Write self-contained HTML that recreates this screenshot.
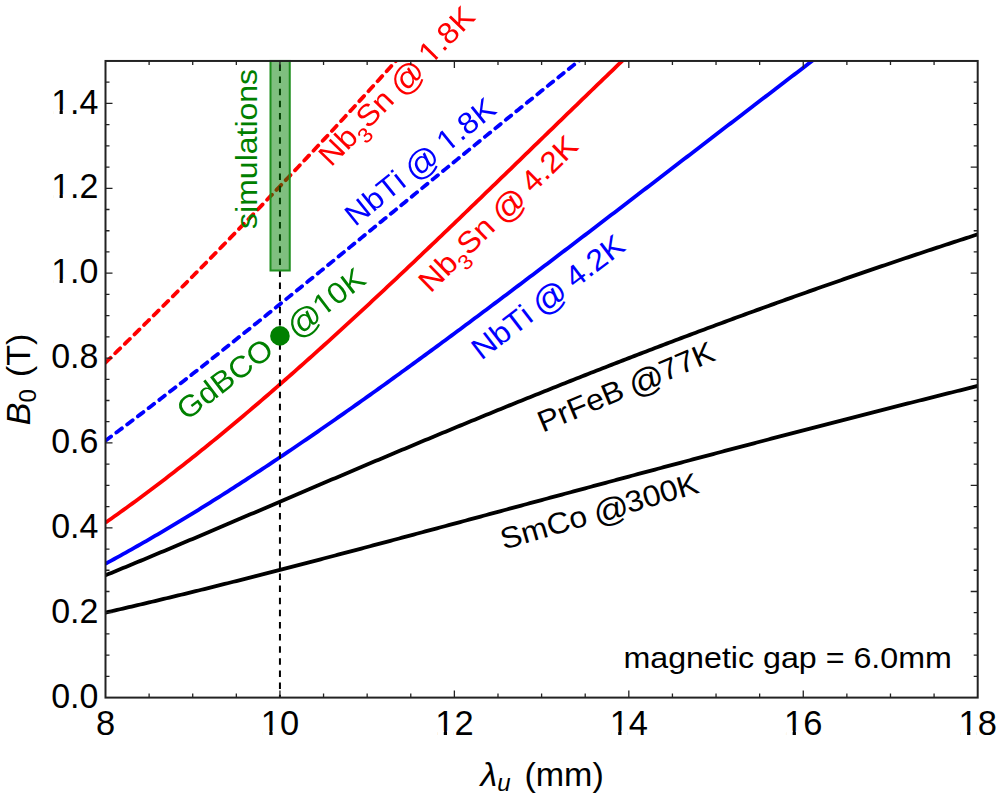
<!DOCTYPE html>
<html><head><meta charset="utf-8"><style>html,body{margin:0;padding:0;background:#fff;width:1000px;height:800px;overflow:hidden}svg{display:block}</style></head>
<body><div id="w"><svg width="1000" height="800" viewBox="0 0 1000 800" font-family='"Liberation Sans", sans-serif' style="font-kerning:none"><defs><clipPath id="cp"><rect x="105.5" y="60.95500000000004" width="872.20" height="636.64"/></clipPath></defs><rect width="1000" height="800" fill="#fff"/><g clip-path="url(#cp)" fill="none" stroke-linejoin="round"><path d="M105.50,612.56 L108.41,611.90 L111.31,611.24 L114.22,610.57 L117.13,609.91 L120.04,609.24 L122.94,608.57 L125.85,607.89 L128.76,607.22 L131.67,606.54 L134.57,605.86 L137.48,605.18 L140.39,604.50 L143.30,603.81 L146.20,603.13 L149.11,602.44 L152.02,601.75 L154.92,601.06 L157.83,600.36 L160.74,599.67 L163.65,598.97 L166.55,598.27 L169.46,597.57 L172.37,596.87 L175.28,596.16 L178.18,595.46 L181.09,594.75 L184.00,594.04 L186.91,593.33 L189.81,592.62 L192.72,591.91 L195.63,591.19 L198.53,590.47 L201.44,589.76 L204.35,589.04 L207.26,588.32 L210.16,587.59 L213.07,586.87 L215.98,586.15 L218.89,585.42 L221.79,584.69 L224.70,583.96 L227.61,583.23 L230.52,582.50 L233.42,581.77 L236.33,581.04 L239.24,580.30 L242.14,579.56 L245.05,578.83 L247.96,578.09 L250.87,577.35 L253.77,576.61 L256.68,575.87 L259.59,575.12 L262.50,574.38 L265.40,573.63 L268.31,572.89 L271.22,572.14 L274.13,571.39 L277.03,570.64 L279.94,569.89 L282.85,569.14 L285.75,568.39 L288.66,567.64 L291.57,566.88 L294.48,566.13 L297.38,565.37 L300.29,564.61 L303.20,563.86 L306.11,563.10 L309.01,562.34 L311.92,561.58 L314.83,560.82 L317.74,560.06 L320.64,559.29 L323.55,558.53 L326.46,557.77 L329.36,557.00 L332.27,556.24 L335.18,555.47 L338.09,554.70 L340.99,553.94 L343.90,553.17 L346.81,552.40 L349.72,551.63 L352.62,550.86 L355.53,550.09 L358.44,549.32 L361.35,548.55 L364.25,547.78 L367.16,547.00 L370.07,546.23 L372.97,545.46 L375.88,544.68 L378.79,543.91 L381.70,543.13 L384.60,542.36 L387.51,541.58 L390.42,540.80 L393.33,540.03 L396.23,539.25 L399.14,538.47 L402.05,537.69 L404.96,536.91 L407.86,536.13 L410.77,535.35 L413.68,534.57 L416.58,533.79 L419.49,533.01 L422.40,532.23 L425.31,531.45 L428.21,530.67 L431.12,529.89 L434.03,529.11 L436.94,528.32 L439.84,527.54 L442.75,526.76 L445.66,525.97 L448.57,525.19 L451.47,524.41 L454.38,523.62 L457.29,522.84 L460.19,522.06 L463.10,521.27 L466.01,520.49 L468.92,519.70 L471.82,518.92 L474.73,518.13 L477.64,517.35 L480.55,516.56 L483.45,515.78 L486.36,514.99 L489.27,514.21 L492.18,513.42 L495.08,512.64 L497.99,511.85 L500.90,511.06 L503.80,510.28 L506.71,509.49 L509.62,508.71 L512.53,507.92 L515.43,507.13 L518.34,506.35 L521.25,505.56 L524.16,504.78 L527.06,503.99 L529.97,503.21 L532.88,502.42 L535.79,501.63 L538.69,500.85 L541.60,500.06 L544.51,499.28 L547.41,498.49 L550.32,497.71 L553.23,496.92 L556.14,496.13 L559.04,495.35 L561.95,494.56 L564.86,493.78 L567.77,492.99 L570.67,492.21 L573.58,491.42 L576.49,490.64 L579.40,489.86 L582.30,489.07 L585.21,488.29 L588.12,487.50 L591.02,486.72 L593.93,485.94 L596.84,485.15 L599.75,484.37 L602.65,483.59 L605.56,482.80 L608.47,482.02 L611.38,481.24 L614.28,480.46 L617.19,479.68 L620.10,478.89 L623.01,478.11 L625.91,477.33 L628.82,476.55 L631.73,475.77 L634.63,474.99 L637.54,474.21 L640.45,473.43 L643.36,472.65 L646.26,471.87 L649.17,471.09 L652.08,470.31 L654.99,469.54 L657.89,468.76 L660.80,467.98 L663.71,467.20 L666.62,466.42 L669.52,465.65 L672.43,464.87 L675.34,464.10 L678.24,463.32 L681.15,462.54 L684.06,461.77 L686.97,460.99 L689.87,460.22 L692.78,459.45 L695.69,458.67 L698.60,457.90 L701.50,457.13 L704.41,456.35 L707.32,455.58 L710.23,454.81 L713.13,454.04 L716.04,453.27 L718.95,452.50 L721.85,451.73 L724.76,450.96 L727.67,450.19 L730.58,449.42 L733.48,448.65 L736.39,447.88 L739.30,447.12 L742.21,446.35 L745.11,445.58 L748.02,444.82 L750.93,444.05 L753.84,443.29 L756.74,442.52 L759.65,441.76 L762.56,440.99 L765.46,440.23 L768.37,439.47 L771.28,438.71 L774.19,437.94 L777.09,437.18 L780.00,436.42 L782.91,435.66 L785.82,434.90 L788.72,434.14 L791.63,433.38 L794.54,432.62 L797.45,431.87 L800.35,431.11 L803.26,430.35 L806.17,429.59 L809.07,428.84 L811.98,428.08 L814.89,427.33 L817.80,426.57 L820.70,425.82 L823.61,425.07 L826.52,424.31 L829.43,423.56 L832.33,422.81 L835.24,422.06 L838.15,421.31 L841.06,420.56 L843.96,419.81 L846.87,419.06 L849.78,418.31 L852.68,417.56 L855.59,416.82 L858.50,416.07 L861.41,415.32 L864.31,414.58 L867.22,413.83 L870.13,413.09 L873.04,412.34 L875.94,411.60 L878.85,410.86 L881.76,410.12 L884.67,409.37 L887.57,408.63 L890.48,407.89 L893.39,407.15 L896.29,406.41 L899.20,405.67 L902.11,404.94 L905.02,404.20 L907.92,403.46 L910.83,402.73 L913.74,401.99 L916.65,401.26 L919.55,400.52 L922.46,399.79 L925.37,399.05 L928.28,398.32 L931.18,397.59 L934.09,396.86 L937.00,396.13 L939.90,395.40 L942.81,394.67 L945.72,393.94 L948.63,393.21 L951.53,392.48 L954.44,391.76 L957.35,391.03 L960.26,390.30 L963.16,389.58 L966.07,388.85 L968.98,388.13 L971.89,387.41 L974.79,386.68 L977.70,385.96" stroke="#000" stroke-width="3.8"/><path d="M105.50,575.27 L108.41,574.08 L111.31,572.89 L114.22,571.70 L117.13,570.50 L120.04,569.31 L122.94,568.11 L125.85,566.91 L128.76,565.70 L131.67,564.50 L134.57,563.29 L137.48,562.08 L140.39,560.88 L143.30,559.66 L146.20,558.45 L149.11,557.24 L152.02,556.02 L154.92,554.81 L157.83,553.59 L160.74,552.37 L163.65,551.15 L166.55,549.93 L169.46,548.70 L172.37,547.48 L175.28,546.25 L178.18,545.03 L181.09,543.80 L184.00,542.57 L186.91,541.34 L189.81,540.11 L192.72,538.88 L195.63,537.65 L198.53,536.41 L201.44,535.18 L204.35,533.95 L207.26,532.71 L210.16,531.47 L213.07,530.24 L215.98,529.00 L218.89,527.76 L221.79,526.52 L224.70,525.29 L227.61,524.05 L230.52,522.81 L233.42,521.57 L236.33,520.33 L239.24,519.09 L242.14,517.85 L245.05,516.60 L247.96,515.36 L250.87,514.12 L253.77,512.88 L256.68,511.64 L259.59,510.39 L262.50,509.15 L265.40,507.91 L268.31,506.67 L271.22,505.43 L274.13,504.18 L277.03,502.94 L279.94,501.70 L282.85,500.46 L285.75,499.21 L288.66,497.97 L291.57,496.73 L294.48,495.49 L297.38,494.25 L300.29,493.00 L303.20,491.76 L306.11,490.52 L309.01,489.28 L311.92,488.04 L314.83,486.80 L317.74,485.56 L320.64,484.32 L323.55,483.08 L326.46,481.84 L329.36,480.61 L332.27,479.37 L335.18,478.13 L338.09,476.89 L340.99,475.66 L343.90,474.42 L346.81,473.19 L349.72,471.95 L352.62,470.72 L355.53,469.49 L358.44,468.25 L361.35,467.02 L364.25,465.79 L367.16,464.56 L370.07,463.33 L372.97,462.10 L375.88,460.87 L378.79,459.64 L381.70,458.42 L384.60,457.19 L387.51,455.97 L390.42,454.74 L393.33,453.52 L396.23,452.29 L399.14,451.07 L402.05,449.85 L404.96,448.63 L407.86,447.41 L410.77,446.19 L413.68,444.97 L416.58,443.76 L419.49,442.54 L422.40,441.33 L425.31,440.11 L428.21,438.90 L431.12,437.69 L434.03,436.48 L436.94,435.27 L439.84,434.06 L442.75,432.85 L445.66,431.64 L448.57,430.44 L451.47,429.23 L454.38,428.03 L457.29,426.83 L460.19,425.63 L463.10,424.42 L466.01,423.23 L468.92,422.03 L471.82,420.83 L474.73,419.64 L477.64,418.44 L480.55,417.25 L483.45,416.05 L486.36,414.86 L489.27,413.67 L492.18,412.49 L495.08,411.30 L497.99,410.11 L500.90,408.93 L503.80,407.74 L506.71,406.56 L509.62,405.38 L512.53,404.20 L515.43,403.02 L518.34,401.84 L521.25,400.67 L524.16,399.49 L527.06,398.32 L529.97,397.15 L532.88,395.98 L535.79,394.81 L538.69,393.64 L541.60,392.47 L544.51,391.31 L547.41,390.14 L550.32,388.98 L553.23,387.82 L556.14,386.66 L559.04,385.50 L561.95,384.34 L564.86,383.19 L567.77,382.03 L570.67,380.88 L573.58,379.73 L576.49,378.58 L579.40,377.43 L582.30,376.28 L585.21,375.13 L588.12,373.99 L591.02,372.85 L593.93,371.70 L596.84,370.56 L599.75,369.42 L602.65,368.29 L605.56,367.15 L608.47,366.02 L611.38,364.88 L614.28,363.75 L617.19,362.62 L620.10,361.49 L623.01,360.37 L625.91,359.24 L628.82,358.12 L631.73,356.99 L634.63,355.87 L637.54,354.75 L640.45,353.63 L643.36,352.52 L646.26,351.40 L649.17,350.29 L652.08,349.17 L654.99,348.06 L657.89,346.95 L660.80,345.85 L663.71,344.74 L666.62,343.64 L669.52,342.53 L672.43,341.43 L675.34,340.33 L678.24,339.23 L681.15,338.13 L684.06,337.04 L686.97,335.94 L689.87,334.85 L692.78,333.76 L695.69,332.67 L698.60,331.58 L701.50,330.50 L704.41,329.41 L707.32,328.33 L710.23,327.25 L713.13,326.17 L716.04,325.09 L718.95,324.01 L721.85,322.94 L724.76,321.86 L727.67,320.79 L730.58,319.72 L733.48,318.65 L736.39,317.58 L739.30,316.51 L742.21,315.45 L745.11,314.39 L748.02,313.32 L750.93,312.26 L753.84,311.21 L756.74,310.15 L759.65,309.09 L762.56,308.04 L765.46,306.99 L768.37,305.94 L771.28,304.89 L774.19,303.84 L777.09,302.79 L780.00,301.75 L782.91,300.71 L785.82,299.66 L788.72,298.62 L791.63,297.59 L794.54,296.55 L797.45,295.51 L800.35,294.48 L803.26,293.45 L806.17,292.42 L809.07,291.39 L811.98,290.36 L814.89,289.34 L817.80,288.31 L820.70,287.29 L823.61,286.27 L826.52,285.25 L829.43,284.23 L832.33,283.21 L835.24,282.20 L838.15,281.19 L841.06,280.17 L843.96,279.16 L846.87,278.16 L849.78,277.15 L852.68,276.14 L855.59,275.14 L858.50,274.14 L861.41,273.14 L864.31,272.14 L867.22,271.14 L870.13,270.14 L873.04,269.15 L875.94,268.16 L878.85,267.16 L881.76,266.17 L884.67,265.19 L887.57,264.20 L890.48,263.21 L893.39,262.23 L896.29,261.25 L899.20,260.27 L902.11,259.29 L905.02,258.31 L907.92,257.33 L910.83,256.36 L913.74,255.38 L916.65,254.41 L919.55,253.44 L922.46,252.47 L925.37,251.51 L928.28,250.54 L931.18,249.58 L934.09,248.62 L937.00,247.66 L939.90,246.70 L942.81,245.74 L945.72,244.78 L948.63,243.83 L951.53,242.87 L954.44,241.92 L957.35,240.97 L960.26,240.02 L963.16,239.08 L966.07,238.13 L968.98,237.19 L971.89,236.24 L974.79,235.30 L977.70,234.36" stroke="#000" stroke-width="3.8"/><path d="M105.50,563.73 L108.41,562.16 L111.31,560.58 L114.22,558.99 L117.13,557.40 L120.04,555.80 L122.94,554.19 L125.85,552.57 L128.76,550.94 L131.67,549.31 L134.57,547.67 L137.48,546.02 L140.39,544.36 L143.30,542.70 L146.20,541.03 L149.11,539.35 L152.02,537.66 L154.92,535.97 L157.83,534.27 L160.74,532.57 L163.65,530.86 L166.55,529.14 L169.46,527.41 L172.37,525.68 L175.28,523.94 L178.18,522.19 L181.09,520.44 L184.00,518.68 L186.91,516.91 L189.81,515.14 L192.72,513.36 L195.63,511.57 L198.53,509.78 L201.44,507.98 L204.35,506.18 L207.26,504.37 L210.16,502.55 L213.07,500.73 L215.98,498.90 L218.89,497.07 L221.79,495.23 L224.70,493.38 L227.61,491.53 L230.52,489.67 L233.42,487.81 L236.33,485.94 L239.24,484.07 L242.14,482.19 L245.05,480.30 L247.96,478.41 L250.87,476.52 L253.77,474.62 L256.68,472.71 L259.59,470.80 L262.50,468.88 L265.40,466.96 L268.31,465.04 L271.22,463.10 L274.13,461.17 L277.03,459.23 L279.94,457.28 L282.85,455.33 L285.75,453.38 L288.66,451.42 L291.57,449.45 L294.48,447.48 L297.38,445.51 L300.29,443.53 L303.20,441.55 L306.11,439.56 L309.01,437.57 L311.92,435.57 L314.83,433.57 L317.74,431.57 L320.64,429.56 L323.55,427.55 L326.46,425.53 L329.36,423.51 L332.27,421.49 L335.18,419.46 L338.09,417.43 L340.99,415.39 L343.90,413.35 L346.81,411.31 L349.72,409.26 L352.62,407.21 L355.53,405.16 L358.44,403.10 L361.35,401.04 L364.25,398.97 L367.16,396.90 L370.07,394.83 L372.97,392.76 L375.88,390.68 L378.79,388.60 L381.70,386.51 L384.60,384.43 L387.51,382.34 L390.42,380.24 L393.33,378.14 L396.23,376.04 L399.14,373.94 L402.05,371.83 L404.96,369.73 L407.86,367.61 L410.77,365.50 L413.68,363.38 L416.58,361.26 L419.49,359.14 L422.40,357.01 L425.31,354.89 L428.21,352.76 L431.12,350.62 L434.03,348.49 L436.94,346.35 L439.84,344.21 L442.75,342.07 L445.66,339.92 L448.57,337.77 L451.47,335.63 L454.38,333.47 L457.29,331.32 L460.19,329.16 L463.10,327.00 L466.01,324.84 L468.92,322.68 L471.82,320.52 L474.73,318.35 L477.64,316.18 L480.55,314.01 L483.45,311.84 L486.36,309.67 L489.27,307.49 L492.18,305.31 L495.08,303.13 L497.99,300.95 L500.90,298.77 L503.80,296.58 L506.71,294.40 L509.62,292.21 L512.53,290.02 L515.43,287.83 L518.34,285.64 L521.25,283.44 L524.16,281.25 L527.06,279.05 L529.97,276.85 L532.88,274.65 L535.79,272.45 L538.69,270.25 L541.60,268.05 L544.51,265.84 L547.41,263.64 L550.32,261.43 L553.23,259.22 L556.14,257.01 L559.04,254.80 L561.95,252.59 L564.86,250.38 L567.77,248.17 L570.67,245.95 L573.58,243.74 L576.49,241.52 L579.40,239.30 L582.30,237.08 L585.21,234.87 L588.12,232.65 L591.02,230.43 L593.93,228.20 L596.84,225.98 L599.75,223.76 L602.65,221.54 L605.56,219.31 L608.47,217.09 L611.38,214.86 L614.28,212.64 L617.19,210.41 L620.10,208.18 L623.01,205.96 L625.91,203.73 L628.82,201.50 L631.73,199.27 L634.63,197.04 L637.54,194.81 L640.45,192.58 L643.36,190.35 L646.26,188.12 L649.17,185.89 L652.08,183.66 L654.99,181.43 L657.89,179.19 L660.80,176.96 L663.71,174.73 L666.62,172.50 L669.52,170.26 L672.43,168.03 L675.34,165.80 L678.24,163.57 L681.15,161.33 L684.06,159.10 L686.97,156.87 L689.87,154.63 L692.78,152.40 L695.69,150.17 L698.60,147.93 L701.50,145.70 L704.41,143.47 L707.32,141.23 L710.23,139.00 L713.13,136.77 L716.04,134.53 L718.95,132.30 L721.85,130.07 L724.76,127.84 L727.67,125.61 L730.58,123.37 L733.48,121.14 L736.39,118.91 L739.30,116.68 L742.21,114.45 L745.11,112.22 L748.02,109.99 L750.93,107.76 L753.84,105.53 L756.74,103.30 L759.65,101.07 L762.56,98.85 L765.46,96.62 L768.37,94.39 L771.28,92.16 L774.19,89.94 L777.09,87.71 L780.00,85.49 L782.91,83.26 L785.82,81.04 L788.72,78.81 L791.63,76.59 L794.54,74.37 L797.45,72.15 L800.35,69.93 L803.26,67.71 L806.17,65.49 L809.07,63.27 L811.98,61.05 L814.89,58.83 L817.80,56.61 L820.70,54.40 L823.61,52.18 L826.52,49.97 L829.43,47.75 L832.33,45.54 L835.24,43.33 L838.15,41.11 L841.06,38.90 L843.96,36.69 L846.87,34.48" stroke="#00f" stroke-width="3.8"/><path d="M105.50,522.65 L108.50,520.55 L111.50,518.44 L114.50,516.32 L117.50,514.19 L120.50,512.05 L123.50,509.90 L126.50,507.74 L129.50,505.56 L132.50,503.38 L135.50,501.18 L138.50,498.98 L141.50,496.76 L144.50,494.53 L147.50,492.30 L150.50,490.05 L153.50,487.79 L156.50,485.52 L159.50,483.24 L162.50,480.96 L165.50,478.66 L168.50,476.35 L171.50,474.03 L174.50,471.71 L177.50,469.37 L180.50,467.02 L183.50,464.67 L186.50,462.30 L189.50,459.93 L192.50,457.54 L195.50,455.15 L198.50,452.75 L201.50,450.34 L204.50,447.92 L207.50,445.49 L210.50,443.05 L213.50,440.61 L216.50,438.16 L219.50,435.69 L222.50,433.22 L225.50,430.74 L228.50,428.26 L231.50,425.76 L234.50,423.26 L237.50,420.74 L240.50,418.22 L243.50,415.70 L246.50,413.16 L249.50,410.62 L252.50,408.07 L255.50,405.51 L258.50,402.95 L261.50,400.37 L264.50,397.79 L267.50,395.20 L270.50,392.61 L273.50,390.01 L276.50,387.40 L279.50,384.79 L282.50,382.16 L285.50,379.53 L288.50,376.90 L291.50,374.26 L294.50,371.61 L297.50,368.95 L300.50,366.29 L303.50,363.62 L306.50,360.95 L309.50,358.27 L312.50,355.59 L315.50,352.89 L318.50,350.20 L321.50,347.49 L324.50,344.78 L327.50,342.07 L330.50,339.35 L333.50,336.62 L336.50,333.89 L339.50,331.16 L342.50,328.41 L345.50,325.67 L348.50,322.92 L351.50,320.16 L354.50,317.40 L357.50,314.63 L360.50,311.86 L363.50,309.08 L366.50,306.30 L369.50,303.52 L372.50,300.73 L375.50,297.94 L378.50,295.14 L381.50,292.34 L384.50,289.53 L387.50,286.72 L390.50,283.91 L393.50,281.09 L396.50,278.26 L399.50,275.44 L402.50,272.61 L405.50,269.78 L408.50,266.94 L411.50,264.10 L414.50,261.26 L417.50,258.41 L420.50,255.56 L423.50,252.71 L426.50,249.85 L429.50,247.00 L432.50,244.14 L435.50,241.27 L438.50,238.40 L441.50,235.54 L444.50,232.66 L447.50,229.79 L450.50,226.91 L453.50,224.03 L456.50,221.15 L459.50,218.27 L462.50,215.38 L465.50,212.50 L468.50,209.61 L471.50,206.72 L474.50,203.82 L477.50,200.93 L480.50,198.03 L483.50,195.14 L486.50,192.24 L489.50,189.34 L492.50,186.44 L495.50,183.53 L498.50,180.63 L501.50,177.72 L504.50,174.82 L507.50,171.91 L510.50,169.01 L513.50,166.10 L516.50,163.19 L519.50,160.28 L522.50,157.37 L525.50,154.46 L528.50,151.55 L531.50,148.64 L534.50,145.73 L537.50,142.82 L540.50,139.91 L543.50,137.00 L546.50,134.09 L549.50,131.18 L552.50,128.27 L555.50,125.36 L558.50,122.45 L561.50,119.54 L564.50,116.63 L567.50,113.72 L570.50,110.82 L573.50,107.91 L576.50,105.01 L579.50,102.11 L582.50,99.20 L585.50,96.30 L588.50,93.40 L591.50,90.50 L594.50,87.61 L597.50,84.71 L600.50,81.82 L603.50,78.93 L606.50,76.04 L609.50,73.15 L612.50,70.26 L615.50,67.38 L618.50,64.49 L621.50,61.61 L624.50,58.74 L627.50,55.86 L630.50,52.99" stroke="#f00" stroke-width="3.8"/><path d="M105.50,440.64 L108.41,438.48 L111.31,436.31 L114.22,434.14 L117.13,431.96 L120.04,429.78 L122.94,427.59 L125.85,425.40 L128.76,423.20 L131.67,421.00 L134.57,418.80 L137.48,416.59 L140.39,414.37 L143.30,412.15 L146.20,409.93 L149.11,407.70 L152.02,405.47 L154.92,403.24 L157.83,401.00 L160.74,398.76 L163.65,396.51 L166.55,394.26 L169.46,392.00 L172.37,389.75 L175.28,387.49 L178.18,385.22 L181.09,382.95 L184.00,380.68 L186.91,378.40 L189.81,376.13 L192.72,373.84 L195.63,371.56 L198.53,369.27 L201.44,366.98 L204.35,364.69 L207.26,362.39 L210.16,360.09 L213.07,357.79 L215.98,355.48 L218.89,353.17 L221.79,350.86 L224.70,348.55 L227.61,346.24 L230.52,343.92 L233.42,341.60 L236.33,339.27 L239.24,336.95 L242.14,334.62 L245.05,332.29 L247.96,329.96 L250.87,327.63 L253.77,325.29 L256.68,322.95 L259.59,320.61 L262.50,318.27 L265.40,315.93 L268.31,313.58 L271.22,311.24 L274.13,308.89 L277.03,306.54 L279.94,304.19 L282.85,301.83 L285.75,299.48 L288.66,297.12 L291.57,294.76 L294.48,292.40 L297.38,290.04 L300.29,287.68 L303.20,285.32 L306.11,282.96 L309.01,280.59 L311.92,278.22 L314.83,275.86 L317.74,273.49 L320.64,271.12 L323.55,268.75 L326.46,266.38 L329.36,264.01 L332.27,261.63 L335.18,259.26 L338.09,256.89 L340.99,254.51 L343.90,252.13 L346.81,249.76 L349.72,247.38 L352.62,245.00 L355.53,242.63 L358.44,240.25 L361.35,237.87 L364.25,235.49 L367.16,233.11 L370.07,230.73 L372.97,228.35 L375.88,225.97 L378.79,223.59 L381.70,221.21 L384.60,218.83 L387.51,216.45 L390.42,214.07 L393.33,211.68 L396.23,209.30 L399.14,206.92 L402.05,204.54 L404.96,202.16 L407.86,199.78 L410.77,197.40 L413.68,195.02 L416.58,192.64 L419.49,190.26 L422.40,187.88 L425.31,185.50 L428.21,183.12 L431.12,180.74 L434.03,178.36 L436.94,175.98 L439.84,173.61 L442.75,171.23 L445.66,168.85 L448.57,166.48 L451.47,164.10 L454.38,161.72 L457.29,159.35 L460.19,156.98 L463.10,154.60 L466.01,152.23 L468.92,149.86 L471.82,147.49 L474.73,145.12 L477.64,142.75 L480.55,140.38 L483.45,138.01 L486.36,135.64 L489.27,133.28 L492.18,130.91 L495.08,128.55 L497.99,126.18 L500.90,123.82 L503.80,121.46 L506.71,119.10 L509.62,116.74 L512.53,114.38 L515.43,112.02 L518.34,109.66 L521.25,107.31 L524.16,104.95 L527.06,102.60 L529.97,100.25 L532.88,97.90 L535.79,95.55 L538.69,93.20 L541.60,90.85 L544.51,88.50 L547.41,86.16 L550.32,83.82 L553.23,81.47 L556.14,79.13 L559.04,76.79 L561.95,74.46 L564.86,72.12 L567.77,69.78 L570.67,67.45 L573.58,65.12 L576.49,62.79 L579.40,60.46 L582.30,58.13 L585.21,55.80 L588.12,53.47 L591.02,51.15 L593.93,48.83 L596.84,46.51 L599.75,44.19 L602.65,41.87 L605.56,39.56 L608.47,37.24 L611.38,34.93" stroke="#00f" stroke-width="3.8" stroke-dasharray="7 6.5" stroke-linecap="round"/><path d="M105.50,362.66 L108.50,359.74 L111.50,356.83 L114.50,353.91 L117.50,350.98 L120.50,348.06 L123.50,345.12 L126.50,342.19 L129.50,339.24 L132.50,336.30 L135.50,333.35 L138.50,330.39 L141.50,327.44 L144.50,324.47 L147.50,321.51 L150.50,318.53 L153.50,315.56 L156.50,312.58 L159.50,309.59 L162.50,306.61 L165.50,303.61 L168.50,300.62 L171.50,297.61 L174.50,294.61 L177.50,291.60 L180.50,288.58 L183.50,285.57 L186.50,282.54 L189.50,279.52 L192.50,276.48 L195.50,273.45 L198.50,270.41 L201.50,267.36 L204.50,264.32 L207.50,261.26 L210.50,258.21 L213.50,255.15 L216.50,252.08 L219.50,249.01 L222.50,245.94 L225.50,242.86 L228.50,239.77 L231.50,236.69 L234.50,233.60 L237.50,230.50 L240.50,227.40 L243.50,224.30 L246.50,221.19 L249.50,218.07 L252.50,214.96 L255.50,211.84 L258.50,208.71 L261.50,205.58 L264.50,202.45 L267.50,199.31 L270.50,196.17 L273.50,193.02 L276.50,189.87 L279.50,186.71 L282.50,183.55 L285.50,180.39 L288.50,177.22 L291.50,174.05 L294.50,170.87 L297.50,167.69 L300.50,164.50 L303.50,161.31 L306.50,158.12 L309.50,154.92 L312.50,151.72 L315.50,148.51 L318.50,145.30 L321.50,142.08 L324.50,138.86 L327.50,135.64 L330.50,132.41 L333.50,129.18 L336.50,125.94 L339.50,122.70 L342.50,119.45 L345.50,116.20 L348.50,112.95 L351.50,109.69 L354.50,106.43 L357.50,103.16 L360.50,99.89 L363.50,96.61 L366.50,93.33 L369.50,90.05 L372.50,86.76 L375.50,83.47 L378.50,80.17 L381.50,76.87 L384.50,73.56 L387.50,70.25 L390.50,66.94 L393.50,63.62 L396.50,60.30 L399.50,56.97 L402.50,53.64" stroke="#f00" stroke-width="3.8" stroke-dasharray="7 6.5" stroke-linecap="round"/></g><line x1="279.94" y1="60.96" x2="279.94" y2="697.6" stroke="#000" stroke-width="2" stroke-dasharray="6.5 5.62" stroke-dashoffset="8.62"/><rect x="270.5" y="60.96" width="19.25" height="209.54" fill="rgb(0,128,0)" fill-opacity="0.5" stroke="#1f8f1f" stroke-width="2"/><circle cx="279.94" cy="335.9" r="9.8" fill="#008000"/><mask id="m1" maskUnits="userSpaceOnUse" x="-20" y="-60" width="320" height="100"><rect x="-20" y="-60" width="320" height="100" fill="#fff"/><rect x="144.65" y="-3.59" width="6.07" height="4.39" fill="#000"/><rect x="153.75" y="-3.59" width="5.92" height="4.39" fill="#000"/></mask><g transform="translate(331.01,167.82) rotate(-45.73) scale(1,0.935)"><text font-size="32" fill="#f00" mask="url(#m1)" >Nb<tspan font-size="22.4" dy="9.5">3</tspan><tspan dy="-9.5">Sn </tspan><tspan font-size="35.2" dx="-1.62" dy="3.0">@</tspan><tspan dx="-1.62" dy="-3.0"> 1.8K</tspan></text></g><mask id="m2" maskUnits="userSpaceOnUse" x="-20" y="-60" width="320" height="100"><rect x="-20" y="-60" width="320" height="100" fill="#fff"/><rect x="119.70" y="-3.59" width="6.07" height="4.39" fill="#000"/><rect x="128.80" y="-3.59" width="5.92" height="4.39" fill="#000"/></mask><g transform="translate(355.10,227.17) rotate(-38.85) scale(1,0.935)"><text font-size="32" fill="#00f" mask="url(#m2)" >NbTi <tspan font-size="35.2" dx="-1.62" dy="3.0">@</tspan><tspan dx="-1.62" dy="-3.0"> 1.8K</tspan></text></g><g transform="translate(430.58,293.65) rotate(-44.28) scale(1,0.935)"><text font-size="32" fill="#f00" >Nb<tspan font-size="22.4" dy="9.5">3</tspan><tspan dy="-9.5">Sn </tspan><tspan font-size="35.2" dx="-1.62" dy="3.0">@</tspan><tspan dx="-1.62" dy="-3.0"> 4.2K</tspan></text></g><g transform="translate(481.23,360.85) rotate(-37.47) scale(1,0.935)"><text font-size="32" fill="#00f" >NbTi <tspan font-size="35.2" dx="-1.62" dy="3.0">@</tspan><tspan dx="-1.62" dy="-3.0"> 4.2K</tspan></text></g><mask id="m3" maskUnits="userSpaceOnUse" x="-20" y="-60" width="320" height="100"><rect x="-20" y="-60" width="320" height="100" fill="#fff"/><rect x="173.06" y="-3.59" width="6.07" height="4.39" fill="#000"/><rect x="182.16" y="-3.59" width="5.92" height="4.39" fill="#000"/></mask><g transform="translate(186.61,421.29) rotate(-37.46) scale(1,0.935)"><text font-size="32" fill="#008000" mask="url(#m3)" >GdBCO&#160;&#160;&#160;<tspan font-size="35.2" dx="-1.62" dy="3.0">@</tspan><tspan dx="-1.62" dy="-3.0">10K</tspan></text></g><g transform="translate(542.67,432.75) rotate(-22.75) scale(1,0.935)"><text font-size="32" fill="#000" >PrFeB <tspan font-size="35.2" dx="-1.62" dy="3.0">@</tspan><tspan dx="-1.62" dy="-3.0">77K</tspan></text></g><g transform="translate(503.82,549.69) rotate(-16.26) scale(1,0.935)"><text font-size="32" fill="#000" >SmCo <tspan font-size="35.2" dx="-1.62" dy="3.0">@</tspan><tspan dx="-1.62" dy="-3.0">300K</tspan></text></g><g transform="translate(257.30,228.90) rotate(-90.00) scale(1,0.935)"><text font-size="32" fill="#008000" >simulations</text></g><g transform="translate(623.50,668.30) rotate(0.00) scale(1,0.935)"><text font-size="32.2" fill="#000" >magnetic gap = 6.0mm</text></g><path d="M149.11,697.6 v-4 M149.11,60.96 v4 M192.72,697.6 v-4 M192.72,60.96 v4 M236.33,697.6 v-4 M236.33,60.96 v4 M279.94,697.6 v-7 M279.94,60.96 v7 M323.55,697.6 v-4 M323.55,60.96 v4 M367.16,697.6 v-4 M367.16,60.96 v4 M410.77,697.6 v-4 M410.77,60.96 v4 M454.38,697.6 v-7 M454.38,60.96 v7 M497.99,697.6 v-4 M497.99,60.96 v4 M541.60,697.6 v-4 M541.60,60.96 v4 M585.21,697.6 v-4 M585.21,60.96 v4 M628.82,697.6 v-7 M628.82,60.96 v7 M672.43,697.6 v-4 M672.43,60.96 v4 M716.04,697.6 v-4 M716.04,60.96 v4 M759.65,697.6 v-4 M759.65,60.96 v4 M803.26,697.6 v-7 M803.26,60.96 v7 M846.87,697.6 v-4 M846.87,60.96 v4 M890.48,697.6 v-4 M890.48,60.96 v4 M934.09,697.6 v-4 M934.09,60.96 v4 M105.5,676.38 h4 M977.70,676.38 h-4 M105.5,655.16 h4 M977.70,655.16 h-4 M105.5,633.94 h4 M977.70,633.94 h-4 M105.5,612.71 h7 M977.70,612.71 h-4 M105.5,591.49 h4 M977.70,591.49 h-7 M105.5,570.27 h4 M977.70,570.27 h-4 M105.5,549.05 h4 M977.70,549.05 h-4 M105.5,527.83 h7 M977.70,527.83 h-4 M105.5,506.61 h4 M977.70,506.61 h-4 M105.5,485.38 h4 M977.70,485.38 h-7 M105.5,464.16 h4 M977.70,464.16 h-4 M105.5,442.94 h7 M977.70,442.94 h-4 M105.5,421.72 h4 M977.70,421.72 h-4 M105.5,400.50 h4 M977.70,400.50 h-4 M105.5,379.28 h4 M977.70,379.28 h-7 M105.5,358.06 h7 M977.70,358.06 h-4 M105.5,336.83 h4 M977.70,336.83 h-4 M105.5,315.61 h4 M977.70,315.61 h-4 M105.5,294.39 h4 M977.70,294.39 h-4 M105.5,273.17 h7 M977.70,273.17 h-7 M105.5,251.95 h4 M977.70,251.95 h-4 M105.5,230.73 h4 M977.70,230.73 h-4 M105.5,209.51 h4 M977.70,209.51 h-4 M105.5,188.28 h7 M977.70,188.28 h-4 M105.5,167.06 h4 M977.70,167.06 h-7 M105.5,145.84 h4 M977.70,145.84 h-4 M105.5,124.62 h4 M977.70,124.62 h-4 M105.5,103.40 h7 M977.70,103.40 h-4 M105.5,82.18 h4 M977.70,82.18 h-4" stroke="#222" stroke-width="1.3" fill="none"/><rect x="105.5" y="60.96" width="872.20" height="636.64" fill="none" stroke="#222" stroke-width="2"/><text transform="translate(105.50,734.5) scale(1,1.025)" font-size="34.5" text-anchor="middle">8</text><text transform="translate(279.94,734.5) scale(1,1.025)" font-size="34.5" text-anchor="middle">10</text><rect x="262.77" y="730.63" width="6.55" height="4.67" fill="#fff"/><rect x="272.58" y="730.63" width="6.38" height="4.67" fill="#fff"/><text transform="translate(454.38,734.5) scale(1,1.025)" font-size="34.5" text-anchor="middle">12</text><rect x="437.21" y="730.63" width="6.55" height="4.67" fill="#fff"/><rect x="447.02" y="730.63" width="6.38" height="4.67" fill="#fff"/><text transform="translate(628.82,734.5) scale(1,1.025)" font-size="34.5" text-anchor="middle">14</text><rect x="611.65" y="730.63" width="6.55" height="4.67" fill="#fff"/><rect x="621.46" y="730.63" width="6.38" height="4.67" fill="#fff"/><text transform="translate(803.26,734.5) scale(1,1.025)" font-size="34.5" text-anchor="middle">16</text><rect x="786.09" y="730.63" width="6.55" height="4.67" fill="#fff"/><rect x="795.90" y="730.63" width="6.38" height="4.67" fill="#fff"/><text transform="translate(977.70,734.5) scale(1,1.025)" font-size="34.5" text-anchor="middle">18</text><rect x="960.53" y="730.63" width="6.55" height="4.67" fill="#fff"/><rect x="970.34" y="730.63" width="6.38" height="4.67" fill="#fff"/><text transform="translate(98.4,707.70) scale(1,1.025)" font-size="34" text-anchor="end">0.0</text><text transform="translate(98.4,622.81) scale(1,1.025)" font-size="34" text-anchor="end">0.2</text><text transform="translate(98.4,537.93) scale(1,1.025)" font-size="34" text-anchor="end">0.4</text><text transform="translate(98.4,453.04) scale(1,1.025)" font-size="34" text-anchor="end">0.6</text><text transform="translate(98.4,368.16) scale(1,1.025)" font-size="34" text-anchor="end">0.8</text><text transform="translate(98.4,283.27) scale(1,1.025)" font-size="34" text-anchor="end">1.0</text><rect x="53.13" y="279.45" width="6.46" height="4.62" fill="#fff"/><rect x="62.79" y="279.45" width="6.29" height="4.62" fill="#fff"/><text transform="translate(98.4,198.38) scale(1,1.025)" font-size="34" text-anchor="end">1.2</text><rect x="53.13" y="194.57" width="6.46" height="4.62" fill="#fff"/><rect x="62.79" y="194.57" width="6.29" height="4.62" fill="#fff"/><text transform="translate(98.4,113.50) scale(1,1.025)" font-size="34" text-anchor="end">1.4</text><rect x="53.13" y="109.68" width="6.46" height="4.62" fill="#fff"/><rect x="62.79" y="109.68" width="6.29" height="4.62" fill="#fff"/><text transform="translate(480.4,786.2)" font-size="34"><tspan font-style="italic">λ</tspan><tspan font-style="italic" font-size="24" dy="5">u</tspan><tspan dy="-5" dx="4.5"> (mm)</tspan></text><text transform="translate(30.1,425.25) rotate(-90)" font-size="34"><tspan font-style="italic">B</tspan><tspan font-size="24" dy="5.8">0</tspan><tspan dy="-5.8" dx="2.7"> (T)</tspan></text></svg></div></body></html>
